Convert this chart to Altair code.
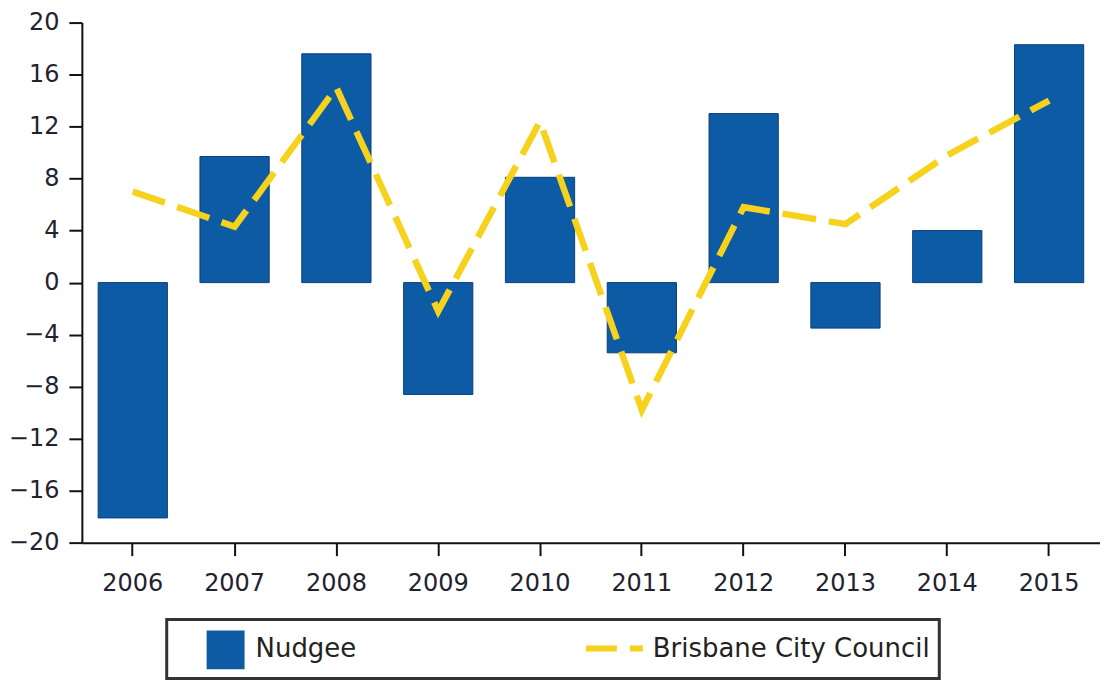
import altair as alt
import pandas as pd

years = ["2006", "2007", "2008", "2009", "2010", "2011", "2012", "2013", "2014", "2015"]
nudgee = [-18.1, 9.7, 17.6, -8.6, 8.1, -5.4, 13.0, -3.5, 4.0, 18.3]
brisbane = [7.0, 4.3, 15.0, -2.2, 12.4, -9.8, 5.8, 4.5, 9.8, 14.0]
series_names = ["Nudgee", "Brisbane City Council"]
y_ticks = [-20, -16, -12, -8, -4, 0, 4, 8, 12, 16, 20]

BLUE = "#0c5ba4"
YELLOW = "#f6d21c"

df = pd.DataFrame({"year": years, "nudgee": nudgee, "brisbane": brisbane})
leg_df = pd.DataFrame({"series": series_names})

square_path = "M-0.95,-0.9 L0.95,-0.9 L0.95,1.04 L-0.95,1.04 Z"
dash_path = ("M-1.85,-0.15 L-0.3,-0.15 L-0.3,0.15 L-1.85,0.15 Z "
             "M0.35,-0.15 L1.0,-0.15 L1.0,0.15 L0.35,0.15 Z "
             "M-1.85,-0.9 L-1.85,-0.9 M-1.85,1.04 L-1.85,1.04")

x_enc = alt.X("year:N", sort=years, title=None,
              scale=alt.Scale(paddingInner=0.32),
              axis=alt.Axis(labelAngle=0, tickSize=13, labelPadding=16,
                            domainWidth=2, tickWidth=2))
y_scale = alt.Scale(domain=[-20, 20], nice=False, zero=False)

bars = alt.Chart(df).mark_bar(color=BLUE, stroke="#0a3f78", strokeWidth=1).encode(
    x=x_enc,
    y=alt.Y("nudgee:Q", scale=y_scale, title=None,
            axis=alt.Axis(values=y_ticks, tickSize=13, labelPadding=10, grid=False,
                          domainWidth=2, tickWidth=2)),
    y2=alt.datum(0),
)

line = alt.Chart(df).mark_line(color=YELLOW, strokeWidth=6.5, strokeDash=[34, 13],
                               strokeCap="butt").encode(
    x=alt.X("year:N", sort=years),
    y=alt.Y("brisbane:Q", scale=y_scale),
)

legend_layer = alt.Chart(leg_df).mark_point(filled=True, opacity=1).encode(
    color=alt.Color("series:N", title=None,
                    scale=alt.Scale(domain=series_names, range=[BLUE, YELLOW]),
                    legend=alt.Legend(
                        orient="none", legendX=85, legendY=598,
                        direction="horizontal", columns=2, columnPadding=217,
                        padding=9, symbolOffset=30, symbolSize=1600,
                        symbolStrokeWidth=0, symbolOpacity=1, labelOffset=10,
                        labelFont="DejaVu Sans", labelFontSize=26, labelColor="#222222",
                        labelLimit=0,
                        labelExpr="length(datum.label) > 10 ? datum.label + '\u00a0\u00a0\u00a0' : datum.label",
                        strokeColor="#333333")),
    shape=alt.Shape("series:N", title=None,
                    scale=alt.Scale(domain=series_names, range=[square_path, dash_path])),
).transform_filter("false")

chart = alt.layer(bars, line, legend_layer).properties(
    width=1020, height=521,
    padding={"left": 0, "top": 2, "right": 0, "bottom": 0},
).configure_view(stroke=None).configure_axis(
    labelFont="DejaVu Sans", labelFontSize=24, labelColor="#1f2330",
    domainColor="#111111", tickColor="#111111",
).configure_legend(strokeWidth=3)

chart.save("out.html", embed_options={"renderer": "svg", "actions": False})
